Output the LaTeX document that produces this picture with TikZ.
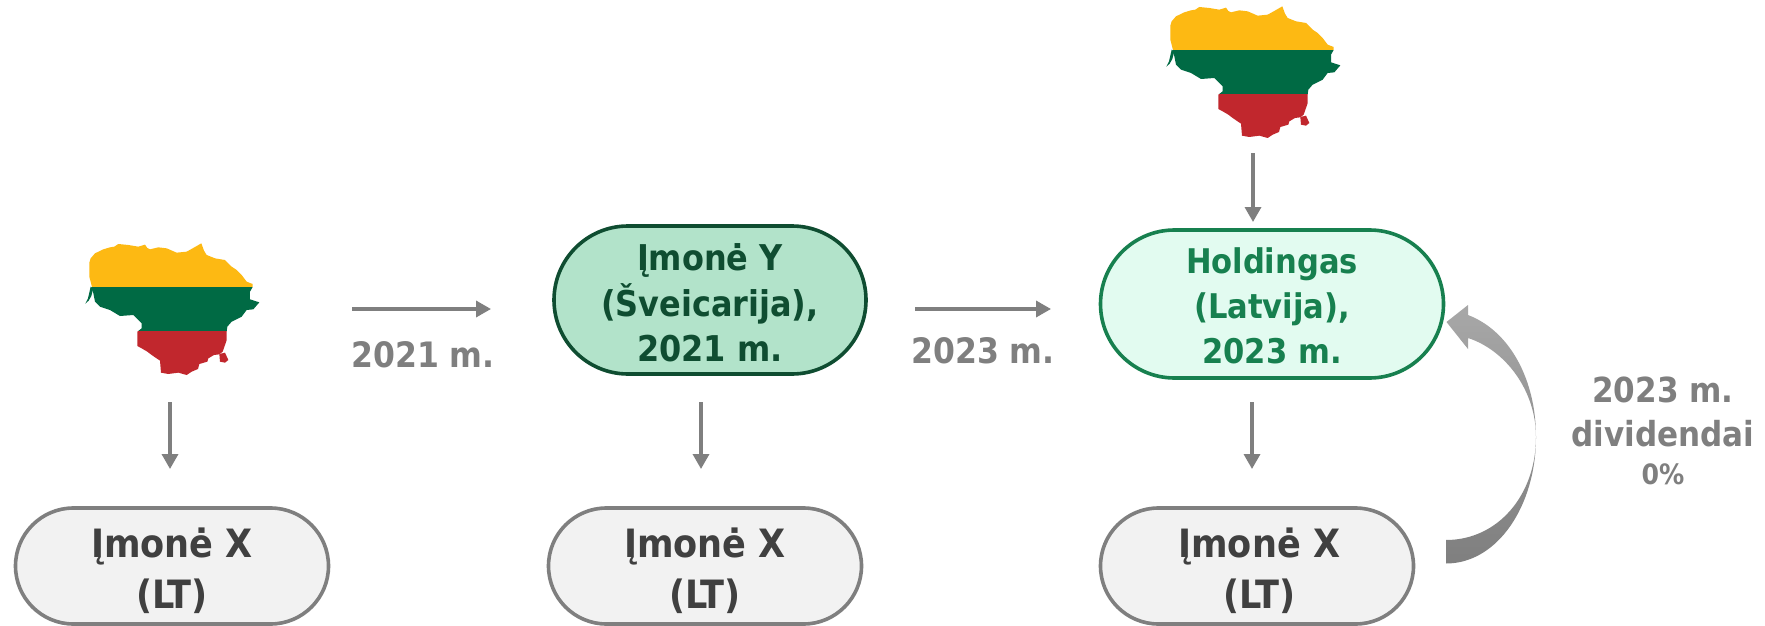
\documentclass[tikz,border=0pt]{standalone}
\usepackage{fontspec}
\setmainfont{DejaVu Sans Condensed}
\usetikzlibrary{shapes.misc,arrows.meta}
\definecolor{lineGrey}{HTML}{7F7F7F}
\definecolor{textDark}{HTML}{404040}
\definecolor{fillGrey}{HTML}{F2F2F2}
\definecolor{yDark}{HTML}{0F4D31}
\definecolor{yFill}{HTML}{B2E3CA}
\definecolor{hGreen}{HTML}{17804F}
\definecolor{hFill}{HTML}{E2FBF0}
\definecolor{flagY}{HTML}{FDB913}
\definecolor{flagG}{HTML}{006A44}
\definecolor{flagR}{HTML}{C1272D}
\tikzset{
  x=1pt,y=-1pt,
  pill/.style={rounded rectangle,draw,line width=3.6pt,inner sep=0pt,align=center,font=\fontsize{35.5}{45}\selectfont\bfseries},
  xbox/.style={pill,draw=lineGrey,fill=fillGrey,text=textDark,minimum width=313pt,minimum height=116pt,font=\fontsize{39}{51}\selectfont\bfseries},
  flow/.style={draw=lineGrey,line width=3.4pt,-{Triangle[length=15pt,width=16pt]}},
  lbl/.style={text=lineGrey,inner sep=0pt,align=center,font=\fontsize{35}{44}\selectfont\bfseries},
}
\newcommand\lowertext[2]{\raisebox{-#1pt}[0pt][0pt]{\begin{tabular}{@{}c@{}}#2\end{tabular}}}
\newcommand\LTflag[2]{%
\begin{scope}[shift={(#1,#2)},x=0.33333pt,y=-0.33333pt]
\fill[flagG] (92,200) -- (100,205) -- (94,228) -- (86,242) -- (76,251) -- (84,235) -- cycle;
\fill[flagR] (478,402) -- (495,398) -- (505,420) -- (495,428) -- (480,425) -- cycle;
\begin{scope}
\clip (88,128) -- (92,115) -- (105,100) -- (130,88) -- (150,82) -- (163,80) -- (175,72) -- (205,75) -- (235,80) -- (255,74) -- (262,84) -- (270,88) -- (295,82) -- (320,85) -- (350,98) -- (380,95) -- (398,85) -- (424,70) -- (432,92) -- (440,105) -- (465,115) -- (495,120) -- (515,140) -- (530,150) -- (545,165) -- (560,185) -- (578,192) -- (578,201) -- (570,215) -- (570,238) -- (598,247) -- (580,268) -- (560,270) -- (545,290) -- (515,305) -- (502,320) -- (500,335) -- (500,360) -- (495,375) -- (488,395) -- (478,403) -- (462,405) -- (445,415) -- (442,425) -- (418,432) -- (414,447) -- (395,455) -- (380,465) -- (355,458) -- (325,462) -- (303,458) -- (300,422) -- (275,405) -- (262,395) -- (245,385) -- (232,378) -- (232,335) -- (245,325) -- (245,310) -- (220,285) -- (180,288) -- (150,270) -- (120,260) -- (105,245) -- (97,205) -- (88,170) -- cycle;
\fill[flagY] (60,50) rectangle (620,201);
\fill[flagG] (60,201) rectangle (620,333);
\fill[flagR] (60,333) rectangle (620,480);
\end{scope}
\end{scope}}
\begin{document}
\begin{tikzpicture}
\useasboundingbox[fill=white] (0,0) rectangle (1765,626);
\LTflag{60}{220}
\LTflag{1141}{-17}
% boxes
\node[xbox] (xa) at (172,566) {\lowertext{13}{Įmonė X\\(LT)}};
\node[xbox] (xb) at (705,566) {\lowertext{13}{Įmonė X\\(LT)}};
\node[xbox] (xc) at (1257,566) {\hspace*{4.5pt}\lowertext{13}{Įmonė X\\(LT)}};
\node[pill,draw=yDark,fill=yFill,text=yDark,minimum width=312pt,minimum height=148pt] (ybox) at (710,300) {\lowertext{13}{Įmonė Y\\(Šveicarija),\\2021 m.}};
\node[pill,draw=hGreen,fill=hFill,text=hGreen,minimum width=343pt,minimum height=148pt,font=\fontsize{34}{45}\selectfont\bfseries] (hbox) at (1272,304) {\lowertext{12}{Holdingas\\(Latvija),\\2023 m.}};
% labels
\node[lbl] (l21) at (423,355) {2021 m.};
\node[lbl] (l23) at (983,351) {2023 m.};
\node[lbl,font=\fontsize{34.5}{44}\selectfont\bfseries] (ldiv) at (1663,431) {2023 m.\\dividendai\\[-6pt]{\fontsize{28}{44}\selectfont 0\%}};
% connector ends
\coordinate (a1) at (170,402); \coordinate (a2) at (170,469);
\coordinate (b1) at (701,402); \coordinate (b2) at (701,469);
\coordinate (c1) at (1252,402); \coordinate (c2) at (1252,469);
\coordinate (d1) at (1253,153); \coordinate (d2) at (1253,222);
\coordinate (e1) at (352,309); \coordinate (e2) at (491,309);
\coordinate (f1) at (915,309); \coordinate (f2) at (1051,309);
\draw[flow] (a1) -- (a2);
\draw[flow] (b1) -- (b2);
\draw[flow] (c1) -- (c2);
\draw[flow] (d1) -- (d2);
\draw[flow] (e1) -- (e2);
\draw[flow] (f1) -- (f2);
% curved return arrow
\shade[top color=lineGrey!68,bottom color=lineGrey,middle color=lineGrey!85]
  (1446,563.5) .. controls (1498,563.5) and (1536,505) .. (1536,437)
  .. controls (1536,380) and (1510,331) .. (1468,315)
  -- (1468,305) -- (1446.5,322) -- (1468,349) -- (1468,338)
  .. controls (1505,350) and (1536,390) .. (1536,437)
  .. controls (1536,495) and (1498,540) .. (1446,540) -- cycle;
\end{tikzpicture}
\end{document}
